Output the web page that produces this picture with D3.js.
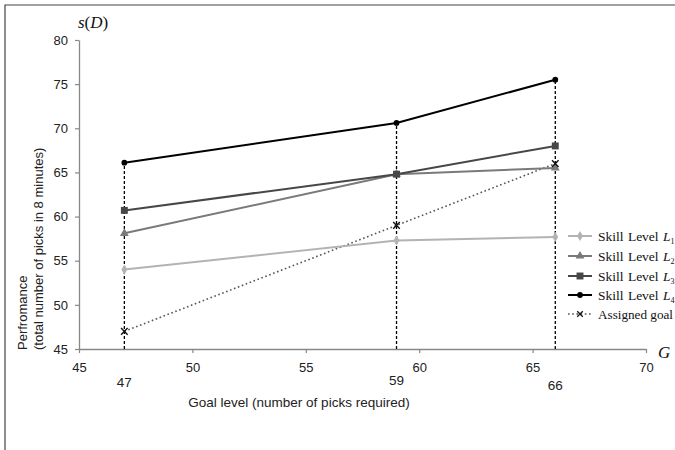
<!DOCTYPE html>
<html><head><meta charset="utf-8">
<script src="https://cdn.jsdelivr.net/npm/d3@7"></script>
<style>body{margin:0;background:#fff}svg{display:block}</style>
</head><body><svg id="c" width="675" height="450"></svg>
<script>
const goals = [47, 59, 66];
const skillL1 = [54.0, 57.3, 57.7];
const skillL2 = [58.1, 64.8, 65.5];
const skillL3 = [60.7, 64.8, 68.0];
const skillL4 = [66.1, 70.6, 75.5];
const assigned = [47, 59, 66];
const xTicks = [45, 50, 55, 60, 65, 70];
const yTicks = [45, 50, 55, 60, 65, 70, 75, 80];
const seriesNames = ["1", "2", "3", "4"];

const svg = d3.select("#c");
const x = d3.scaleLinear().domain([45, 70]).range([79, 646]);
const y = d3.scaleLinear().domain([45, 80]).range([349, 40]);
const sans = "Liberation Sans, Arial, sans-serif";
const serif = "Liberation Serif, Times New Roman, serif";

// frame
svg.append("path").attr("d","M5,450V5H675").attr("fill","none").attr("stroke","#444").attr("stroke-width",1.2);

// axes
const xa = svg.append("g").attr("transform","translate(0,349)")
  .call(d3.axisBottom(x).tickValues(xTicks).tickSize(4).tickPadding(10).tickSizeOuter(0));
const ya = svg.append("g").attr("transform","translate(79,0)")
  .call(d3.axisLeft(y).tickValues(yTicks).tickSize(4).tickPadding(7).tickSizeOuter(0));
[xa, ya].forEach(a => {
  a.select(".domain").attr("stroke","#888").attr("stroke-width",1.3);
  a.selectAll(".tick line").attr("stroke","#888").attr("stroke-width",1.2);
  a.selectAll(".tick text").attr("font-family",sans).attr("font-size",13).attr("fill","#222");
});

// dashed verticals
const series = [skillL1, skillL2, skillL3, skillL4];
goals.forEach((g,i) => {
  svg.append("line").attr("x1",x(g)).attr("x2",x(g)).attr("y1",y(45)).attr("y2",y(skillL4[i]))
    .attr("stroke","#000").attr("stroke-width",1.3).attr("stroke-dasharray","3,2");
});

// extra goal labels
const extraDy = [382, 380, 385];
goals.forEach((g,i)=>{
  svg.append("text").attr("x",x(g)).attr("y",extraDy[i]).attr("dy","0.35em").attr("text-anchor","middle")
    .attr("font-family",sans).attr("font-size",13.5).attr("fill","#222").text(g);
});

const colors = ["#b3b3b3", "#7a7a7a", "#474747", "#000"];
const shapes = [d3.symbolDiamond, d3.symbolTriangle, d3.symbolSquare, d3.symbolCircle];
const sizes = [30, 34, 48, 26];
const line = d3.line().x(d=>x(d[0])).y(d=>y(d[1]));

// assigned goal dotted
const adata = goals.map((g,i)=>[g, assigned[i]]);
svg.append("path").attr("d", line(adata)).attr("fill","none").attr("stroke","#555").attr("stroke-width",1.6).attr("stroke-dasharray","1.6,2.6");

series.forEach((s,k)=>{
  const data = goals.map((g,i)=>[g, s[i]]);
  svg.append("path").attr("d", line(data)).attr("fill","none").attr("stroke",colors[k]).attr("stroke-width",2);
  svg.selectAll(null).data(data).enter().append("path")
    .attr("transform", d=>`translate(${x(d[0])},${y(d[1])})`)
    .attr("d", d3.symbol().type(shapes[k]).size(sizes[k])).attr("fill",colors[k]);
});
const cross = d3.symbol().type(d3.symbolX).size(30);
svg.selectAll(null).data(adata).enter().append("path")
  .attr("transform", d=>`translate(${x(d[0])},${y(d[1])})`)
  .attr("d", cross).attr("fill","none").attr("stroke","#111").attr("stroke-width",1.4);

// legend
const legY = [236, 256, 276, 295, 314];
seriesNames.forEach((n,k)=>{
  const ly = legY[k];
  svg.append("line").attr("x1",568).attr("x2",592).attr("y1",ly).attr("y2",ly).attr("stroke",colors[k]).attr("stroke-width",2);
  svg.append("path").attr("transform",`translate(580,${ly})`).attr("d", d3.symbol().type(shapes[k]).size(sizes[k])).attr("fill",colors[k]);
  const t = svg.append("text").attr("x",598).attr("y",ly).attr("dy","0.35em").attr("font-family",serif).attr("font-size",13.5).attr("word-spacing",1).attr("fill","#111");
  t.append("tspan").text("Skill Level ");
  t.append("tspan").attr("font-style","italic").text("L");
  t.append("tspan").attr("font-size",8).attr("dy",3).text(n);
});
{
  const ly = legY[4];
  svg.append("line").attr("x1",568).attr("x2",592).attr("y1",ly).attr("y2",ly).attr("stroke","#555").attr("stroke-width",1.6).attr("stroke-dasharray","1.6,2.6");
  svg.append("path").attr("transform",`translate(580,${ly})`).attr("d", d3.symbol().type(d3.symbolX).size(22)).attr("fill","none").attr("stroke","#111").attr("stroke-width",1.3);
  svg.append("text").attr("x",598).attr("y",ly).attr("dy","0.35em").attr("font-family",serif).attr("font-size",13).attr("textLength",75).attr("lengthAdjust","spacingAndGlyphs").attr("fill","#111").text("Assigned goal");
}

// axis titles
svg.append("text").attr("x",93).attr("y",22).attr("dy","0.35em").attr("text-anchor","middle")
  .attr("font-family",serif).attr("font-size",17).attr("fill","#111")
  .html('<tspan font-style="italic">s</tspan>(<tspan font-style="italic">D</tspan>)');
svg.append("text").attr("x",658).attr("y",352).attr("dy","0.35em")
  .attr("font-family",serif).attr("font-size",17).attr("font-style","italic").attr("fill","#111").text("G");
svg.append("text").attr("x",299).attr("y",402).attr("dy","0.35em").attr("text-anchor","middle")
  .attr("font-family",sans).attr("font-size",13.5).attr("fill","#222").text("Goal level (number of picks required)");
const yt = svg.append("text").attr("transform","translate(22,350) rotate(-90)")
  .attr("font-family",sans).attr("font-size",13).attr("fill","#222");
yt.append("tspan").attr("x",0).attr("y",0).attr("dy","0.35em").text("Perfromance");
yt.append("tspan").attr("x",0).attr("y",16).attr("dy","0.35em").text("(total number of picks in 8 minutes)");
</script></body></html>
